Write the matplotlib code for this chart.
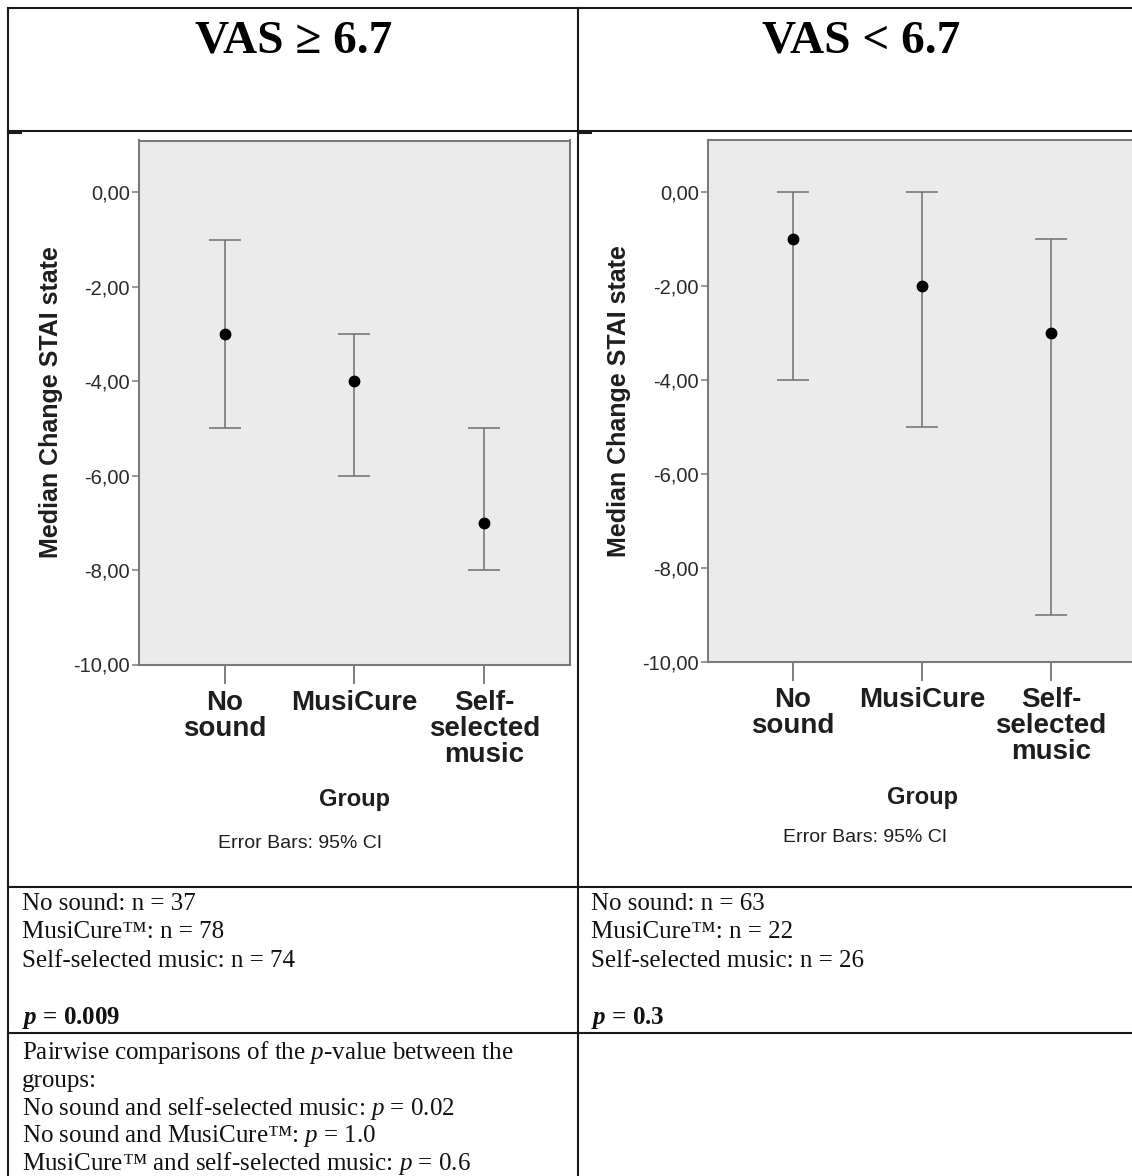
import matplotlib
matplotlib.use('Agg')
import matplotlib.pyplot as plt
from matplotlib.lines import Line2D

# data (median change, 95% CI)
groups = ['No\nsound', 'MusiCure', 'Self-\nselected\nmusic']
high_median = [-3, -4, -7]
high_low = [-5, -6, -8]
high_high = [-1, -3, -5]
low_median = [-1, -2, -3]
low_low = [-4, -5, -9]
low_high = [0, 0, -1]
yticks = [0, -2, -4, -6, -8, -10]
ytick_labels = ['0,00', '-2,00', '-4,00', '-6,00', '-8,00', '-10,00']

headers = ['VAS \u2265 6.7', 'VAS < 6.7']
n_high = ['No sound: n = 37', 'MusiCure\u2122: n = 78', 'Self-selected music: n = 74']
n_low = ['No sound: n = 63', 'MusiCure\u2122: n = 22', 'Self-selected music: n = 26']
p_high = r'$\mathbfit{p}$ = 0.009'
p_low = r'$\mathbfit{p}$ = 0.3'
pairwise = ['Pairwise comparisons of the $\\mathit{p}$-value between the',
            'groups:',
            'No sound and self-selected music: $\\mathit{p}$ = 0.02',
            'No sound and MusiCure\u2122: $\\mathit{p}$ = 1.0',
            'MusiCure\u2122 and self-selected music: $\\mathit{p}$ = 0.6']

plt.rcParams['font.family'] = 'Liberation Sans'
plt.rcParams['mathtext.fontset'] = 'custom'
plt.rcParams['mathtext.rm'] = 'Liberation Serif'
plt.rcParams['mathtext.it'] = 'Liberation Serif:italic'
plt.rcParams['mathtext.bf'] = 'Liberation Serif:bold'
plt.rcParams['mathtext.bfit'] = 'Liberation Serif:italic:bold'

W, H = 1132, 1176
fig = plt.figure(figsize=(W / 100, H / 100), dpi=100)


def fx(px):
    return px / W


def fy(py):
    return 1 - py / H


# table grid
line_kw = dict(color='#1a1a1a', lw=1.5, transform=fig.transFigure)
for y in [7.5, 130.5, 886.5, 1032.5]:
    fig.add_artist(Line2D([fx(8), 1], [fy(y), fy(y)], **line_kw))
for x in [8, 578]:
    fig.add_artist(Line2D([fx(x), fx(x)], [fy(7.5), 0], **line_kw))
for x in [8, 578]:
    fig.add_artist(Line2D([fx(x), fx(x + 13)], [fy(132.5), fy(132.5)], **line_kw))

# header row
for cx, txt in zip([294, 861], headers):
    fig.text(fx(cx), fy(52.5), txt, family='Liberation Serif', weight='bold',
             fontsize=34, ha='center', va='baseline')


def panel(left, top, bottom, width, med, lo, hi, ylab_x, group_x, group_y,
          eb_x, eb_y):
    ax = fig.add_axes([fx(left), fy(bottom), width / W, (bottom - top) / H])
    x = [1, 2, 3]
    yerr = [[m - l for m, l in zip(med, lo)], [h - m for m, h in zip(med, hi)]]
    ax.errorbar(x, med, yerr=yerr, fmt='o', color='black', markersize=7.5,
                ecolor='#6e6e6e', elinewidth=1.1, capsize=11.5, capthick=1.1,
                zorder=3)
    ax.set_facecolor('#ebebeb')
    ax.set_xlim(0.34, 3.66)
    ax.set_ylim(-10, 1.1)
    ax.set_yticks(yticks)
    ax.set_yticklabels(ytick_labels)
    ax.set_xticks(x)
    ax.set_xticklabels(groups, fontsize=20, weight='bold', color='#1e1e1e',
                       linespacing=1.0)
    for s in ax.spines.values():
        s.set_color('#7a7a7a')
        s.set_linewidth(1.5)
    ax.tick_params(axis='y', length=5, width=1.1, color='#7a7a7a', pad=1.5,
                   labelsize=14.5, labelcolor='#2a2a2a')
    ax.tick_params(axis='x', length=14, width=1.1, color='#5a5a5a', pad=4)
    fig.text(fx(ylab_x), fy((top + bottom) / 2), 'Median Change STAI state',
             rotation=90, fontsize=18, weight='bold', color='#1e1e1e',
             ha='center', va='center')
    fig.text(fx(group_x), fy(group_y), 'Group', fontsize=17, weight='bold',
             color='#1e1e1e', ha='center', va='baseline')
    fig.text(fx(eb_x), fy(eb_y), 'Error Bars: 95% CI', fontsize=14,
             color='#1e1e1e', ha='center', va='baseline')
    return ax


panel(139, 140.5, 664.5, 431, high_median, high_low, high_high,
      51, 355, 806, 300, 848)
panel(708, 140, 662, 428, low_median, low_low, low_high,
      619, 922, 804, 865, 842)

# text cells below the charts
step = 28.5
txt_kw = dict(family='Liberation Serif', fontsize=18, va='baseline',
              color='#111111')
for x0, lines, ptxt in [(22, n_high, p_high), (591, n_low, p_low)]:
    for i, s in enumerate(lines):
        fig.text(fx(x0), fy(910 + i * step), s, **txt_kw)
    fig.text(fx(x0), fy(910 + 4 * step), ptxt, weight='bold', **txt_kw)
for i, s in enumerate(pairwise):
    fig.text(fx(22), fy(1059 + i * 27.8), s, **txt_kw)

fig.savefig('out.png', dpi=100, facecolor='white')
